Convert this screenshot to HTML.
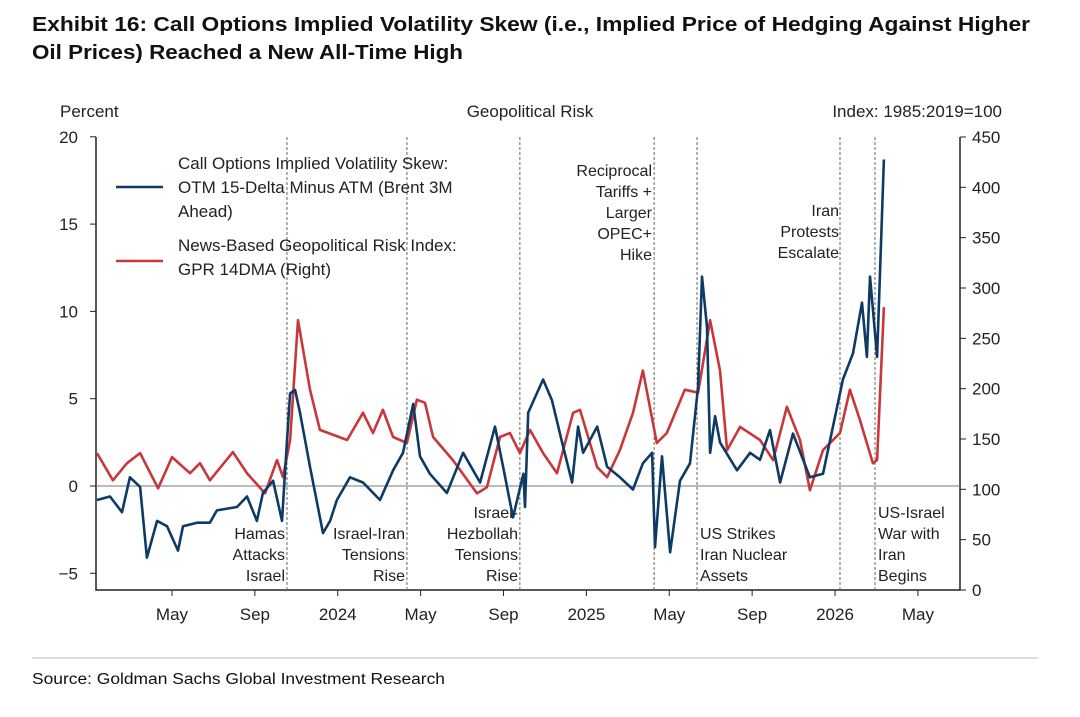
<!DOCTYPE html>
<html><head><meta charset="utf-8"><style>
body{margin:0;background:#fff;width:1080px;height:712px;overflow:hidden;font-family:"Liberation Sans",sans-serif}
</style></head><body>
<svg id="c" width="1080" height="712" xmlns="http://www.w3.org/2000/svg"></svg>
<script>
const skewMonths=[0.38,1.01,1.59,1.97,2.46,2.79,3.28,3.76,4.29,4.53,5.21,5.83,6.17,7.14,7.62,8.1,8.39,8.88,9.31,9.55,9.7,9.94,10.18,10.66,11.29,11.63,11.96,12.59,13.22,14.04,14.67,15.15,15.64,15.97,16.45,17.27,18.05,18.87,19.59,19.98,20.46,20.96,21.04,21.19,21.53,21.91,22.34,22.83,23.31,23.6,23.84,24.52,25,25.62,26.25,26.73,27.17,27.31,27.65,28.04,28.52,29,29.39,29.58,29.82,29.97,30.21,30.45,31.27,31.9,32.38,32.86,33.35,33.97,34.79,35.42,35.76,36.38,36.87,37.3,37.54,37.69,38.03,38.17,38.36];
const skewValues=[-0.8,-0.6,-1.5,0.5,-0.05,-4.1,-2,-2.3,-3.7,-2.3,-2.1,-2.1,-1.4,-1.2,-0.6,-2,-0.4,0.3,-2,2.6,5.3,5.5,4.2,1.1,-2.7,-2,-0.8,0.5,0.2,-0.8,0.9,1.9,4.7,1.7,0.7,-0.4,1.9,0.2,3.4,1.1,-1.8,0.7,-1.2,4.2,5.1,6.1,4.9,2.5,0.2,3.4,1.9,3.4,1.1,0.5,-0.2,1.3,1.9,-3.5,1.7,-3.8,0.3,1.3,5.7,12,9.1,1.9,4,2.5,0.9,1.9,1.5,3.2,0.2,3,0.5,0.7,2.6,6.1,7.6,10.5,7.4,12,7.4,12.2,18.7];
const gprMonths=[0.38,1.15,1.83,2.46,3.33,4,4.87,5.35,5.83,6.94,7.62,8.49,9.07,9.36,9.7,10.08,10.66,11.14,12.45,13.22,13.7,14.18,14.67,15.34,15.82,16.21,16.6,17.56,18.72,19.2,19.83,20.31,20.79,21.28,21.91,22.58,23.36,23.69,24.52,25,25.62,26.25,26.73,27.4,27.88,28.75,29.39,29.97,30.45,30.79,31.42,32.38,33.01,33.68,34.31,34.79,35.42,36.24,36.72,37.2,37.83,38.03,38.36];
const gprValues=[136,109,126,136,101,132,116,126,109,137,116,96,129,112,149,268,199,159,149,176,156,179,152,146,189,186,152,129,96,102,152,156,136,159,136,116,176,179,122,112,139,176,218,146,156,199,196,268,218,139,162,149,129,182,149,99,139,156,199,169,126,129,281];
const leftTicks=[20,15,10,5,0,-5];
const rightTicks=[450,400,350,300,250,200,150,100,50,0];
const xTickMonths=[4,8,12,16,20,24,28,32,36,40];
const xTickLabels=["May","Sep","2024","May","Sep","2025","May","Sep","2026","May"];
const eventMonths=[9.55,15.34,20.79,27.27,29.34,36.24,37.93];

const svg=document.getElementById('c');
const NS="http://www.w3.org/2000/svg";
const L=96,R=960,B=590;
const xs=m=>89.1+m*20.72;
const yl=v=>486-v*17.46;
const yr=g=>590-g*1.0067;
function el(t,a,p){const e=document.createElementNS(NS,t);for(const k in a)e.setAttribute(k,a[k]);(p||svg).appendChild(e);return e;}
function txt(s,x,y,o){const e=el('text',Object.assign({x:x,y:y,'font-size':17,fill:'#222','font-family':'Liberation Sans, sans-serif'},o||{}));e.textContent=s;return e;}

let t=txt('Exhibit 16: Call Options Implied Volatility Skew (i.e., Implied Price of Hedging Against Higher',32,31,{'font-size':20,'font-weight':'bold',fill:'#111',textLength:998,lengthAdjust:'spacingAndGlyphs'});


t=txt('Oil Prices) Reached a New All-Time High',32,59,{'font-size':20,'font-weight':'bold',fill:'#111',textLength:431,lengthAdjust:'spacingAndGlyphs'});


t=txt('Percent',60,117);


t=txt('Geopolitical Risk',530,117,{'text-anchor':'middle'});


t=txt('Index: 1985:2019=100',1002,117,{'text-anchor':'end'});



let a=el('path',{d:`M${L},137V${B}H${R}V137`,stroke:'#222','stroke-width':1.5,fill:'none'});


let z=el('line',{x1:L,x2:R,y1:yl(0),y2:yl(0),stroke:'#777','stroke-width':1});


leftTicks.forEach(v=>{el('line',{x1:L-6,x2:L,y1:yl(v),y2:yl(v),stroke:'#222'});
 const e=txt(String(v).replace('-','−'),78,yl(v)+6,{'text-anchor':'end'});
 
 });
rightTicks.forEach(v=>{el('line',{x1:R,x2:R+6,y1:yr(v),y2:yr(v),stroke:'#222'});
 const e=txt(String(v),972,yr(v)+6);
 
 });
xTickMonths.forEach((m,i)=>{el('line',{x1:xs(m),x2:xs(m),y1:B,y2:B+6,stroke:'#222'});
 const e=txt(xTickLabels[i],xs(m),620,{'text-anchor':'middle'});
 
 });
eventMonths.forEach(m=>{const e=el('line',{x1:xs(m),x2:xs(m),y1:137,y2:B,stroke:'#666','stroke-width':1,'stroke-dasharray':'3,2'});
 
 });

function ann(lines,x,y,anchor,name){lines.forEach((s,i)=>{const e=txt(s,x,y+i*21,{'text-anchor':anchor,'font-size':16});
 
 });}
ann(['Hamas','Attacks','Israel'],285,539,'end','annotation-hamas');
ann(['Israel-Iran','Tensions','Rise'],405,539,'end','annotation-israel-iran');
ann(['Israel-','Hezbollah','Tensions','Rise'],518,518,'end','annotation-hezbollah');
ann(['Reciprocal','Tariffs +','Larger','OPEC+','Hike'],652,176,'end','annotation-tariffs');
ann(['US Strikes','Iran Nuclear','Assets'],700,539,'start','annotation-us-strikes');
ann(['Iran','Protests','Escalate'],839,216,'end','annotation-iran-protests');
ann(['US-Israel','War with','Iran','Begins'],878,518,'start','annotation-war');

function series(ms,vs,ys,col,name){let d='';ms.forEach((m,i)=>{d+=(i?'L':'M')+xs(m).toFixed(1)+','+ys(vs[i]).toFixed(1);});
 const p=el('path',{d:d,stroke:col,'stroke-width':2.6,fill:'none','stroke-linejoin':'round'});
 
 }
series(gprMonths,gprValues,yr,'#c8383a','gpr-line');
series(skewMonths,skewValues,yl,'#0d3b66','skew-line');

let l1=el('line',{x1:116,x2:163,y1:187,y2:187,stroke:'#0d3b66','stroke-width':2.6});


['Call Options Implied Volatility Skew:','OTM 15-Delta Minus ATM (Brent 3M','Ahead)'].forEach((s,i)=>{const e=txt(s,178,169+i*24);
 
 });
let l2=el('line',{x1:116,x2:163,y1:261,y2:261,stroke:'#c8383a','stroke-width':2.6});


['News-Based Geopolitical Risk Index:','GPR 14DMA (Right)'].forEach((s,i)=>{const e=txt(s,178,251+i*24);
 
 });

let sep=el('line',{x1:32,x2:1038,y1:658,y2:658,stroke:'#bbb','stroke-width':1});


t=txt('Source: Goldman Sachs Global Investment Research',32,684,{'font-size':15.5,fill:'#111',textLength:413,lengthAdjust:'spacingAndGlyphs'});


</script>
</body></html>
